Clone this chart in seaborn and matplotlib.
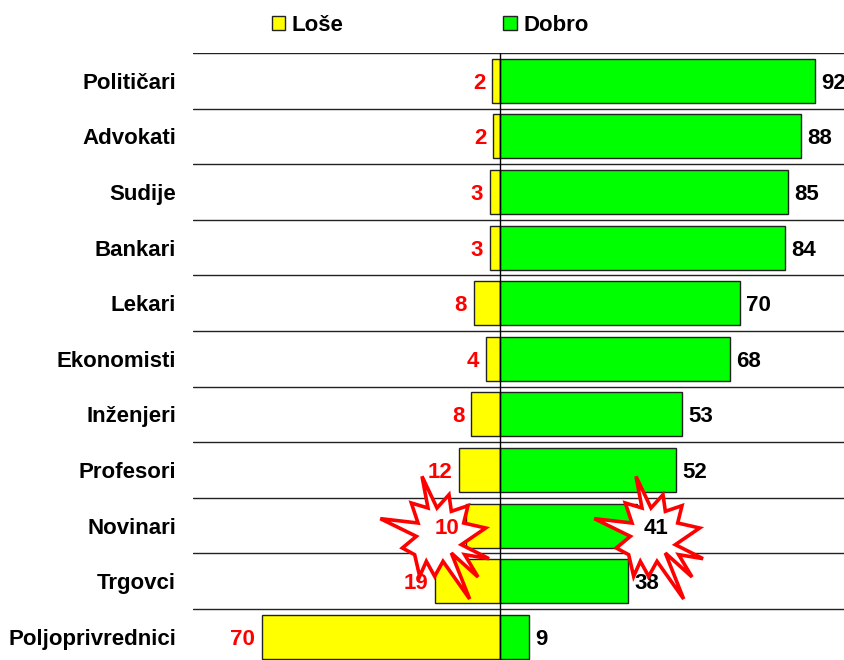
import numpy as np
import pandas as pd
import seaborn as sns
import matplotlib.pyplot as plt
from matplotlib.patches import Polygon

sns.set_theme(style="white")
plt.rcParams['font.family'] = ['Liberation Sans', 'DejaVu Sans']
plt.rcParams['font.weight'] = 'bold'

zanimanja = ["Političari", "Advokati", "Sudije", "Bankari", "Lekari", "Ekonomisti",
             "Inženjeri", "Profesori", "Novinari", "Trgovci", "Poljoprivrednici"]
lose = [2.3, 2.0, 2.9, 2.9, 7.6, 4.1, 8.4, 12.0, 9.9, 19.0, 69.6]
dobro = [92.1, 88.0, 84.2, 83.4, 70.2, 67.3, 53.2, 51.5, 40.1, 37.4, 8.5]
lose_labels = [2, 2, 3, 3, 8, 4, 8, 12, 10, 19, 70]
dobro_labels = [92, 88, 85, 84, 70, 68, 53, 52, 41, 38, 9]

ster = [(-33, -155), (12, -60), (48, -100), (55, -50), (105, -67), (92, -15), (158, 0),
        (85, 50), (168, 92), (95, 80), (135, 147), (55, 75), (110, 213), (30, 100),
        (5, 145), (-20, 100), (-40, 145), (-55, 80), (-92, 60), (-50, 25),
        (-158, -28), (-45, -15), (-65, -75), (-15, -60)]

frame = pd.DataFrame({"zanimanje": zanimanja, "Loše": -np.array(lose), "Dobro": dobro})

fig = plt.figure(figsize=(8.45, 6.6), dpi=100)
ax = fig.add_axes([193 / 845, (660 - 664.6) / 660, 652 / 845, (664.6 - 53) / 660])

sns.barplot(data=frame, y="zanimanje", x="Loše", color="#FFFF00", saturation=1, width=0.79,
            edgecolor="#222222", linewidth=1, label="Loše", ax=ax, zorder=2)
sns.barplot(data=frame, y="zanimanje", x="Dobro", color="#00FF00", saturation=1, width=0.79,
            edgecolor="#222222", linewidth=1, label="Dobro", ax=ax, zorder=2)

ax.set_xlim(-89.8, 100.9)
ax.set_ylim(len(zanimanja) - 0.5, -0.5)
ax.set_xlabel("")
ax.set_ylabel("")
ax.set_xticks([])
ax.tick_params(axis="y", length=0, pad=12.2, labelsize=16, labelcolor="black")
ax.set_yticks(np.arange(len(zanimanja)) - 0.5, minor=True)
ax.tick_params(axis="y", which="minor", length=0)
ax.grid(True, axis="y", which="minor", color="#222222", linewidth=1)
ax.set_axisbelow(True)
sns.despine(ax=ax, left=True, bottom=True, right=True, top=True)
ax.axvline(0, color="black", linewidth=1, zorder=3)

# getallen naast de balken, 10 en 41 komen boven op de ster
for i in range(len(zanimanja)):
    z = 7 if i == 8 else 4
    ax.annotate(str(lose_labels[i]), (-lose[i], i), xytext=(-5, 0), textcoords="offset points",
                ha="right", va="center_baseline", color="red", fontsize=16, zorder=z)
    ax.annotate(str(dobro_labels[i]), (dobro[i], i), xytext=(4.5, 0), textcoords="offset points",
                ha="left", va="center_baseline", color="black", fontsize=16, zorder=z)

# sterren rond Novinari
for midden_x in (433, 647):
    punten = [(midden_x + dx / 3, 660 - (528 + dy / 3)) for dx, dy in ster]
    ax.add_patch(Polygon(punten, closed=True, transform=None, facecolor="white",
                         edgecolor="red", linewidth=2.6, joinstyle="miter", zorder=5, clip_on=False))

leg = ax.legend(loc="upper left", bbox_to_anchor=(79 / 652, 1.062), ncols=2, frameon=False,
                fontsize=16, handlelength=0.6, handleheight=0.6, handletextpad=0.3,
                columnspacing=7.18, borderpad=0, borderaxespad=0)
for t in leg.get_texts():
    t.set_color("black")

fig.savefig("out.png", dpi=100)
